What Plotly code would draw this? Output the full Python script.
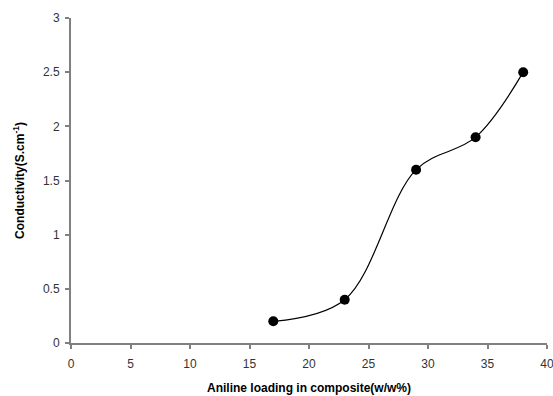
import plotly.graph_objects as go

# Aniline loading (w/w%) and measured conductivity (S/cm)
loading = [17, 23, 29, 34, 38]
conductivity = [0.2, 0.4, 1.6, 1.9, 2.5]

x_ticks = [0, 5, 10, 15, 20, 25, 30, 35, 40]
y_ticks = [0, 0.5, 1, 1.5, 2, 2.5, 3]
y_tick_text = ["0", "0.5", "1", "1.5", "2", "2.5", "3"]

FONT = "Liberation Sans, Arial, sans-serif"

fig = go.Figure(
    go.Scatter(
        x=loading,
        y=conductivity,
        mode="lines+markers",
        line=dict(shape="spline", smoothing=1.0, color="black", width=1.2),
        marker=dict(color="black", size=10),
        showlegend=False,
    )
)

axis_common = dict(
    automargin=False,
    showgrid=False,
    zeroline=False,
    showline=True,
    linecolor="#808080",
    linewidth=2,
    ticks="outside",
    ticklen=4,
    tickwidth=1.5,
    tickcolor="#808080",
    ticklabeloverflow="allow",
    tickfont=dict(family=FONT, size=12, color="#333333"),
)

fig.update_layout(
    width=553,
    height=396,
    margin=dict(l=71, r=6, t=18, b=53),
    paper_bgcolor="white",
    plot_bgcolor="white",
    xaxis=dict(
        range=[0, 40],
        tickvals=x_ticks,
        ticklabelstandoff=5,
        title=dict(
            text="<b>Aniline loading in composite(w/w%)</b>",
            font=dict(family=FONT, size=12, color="black"),
            standoff=13,
        ),
        **axis_common,
    ),
    yaxis=dict(
        range=[0, 3],
        tickvals=y_ticks,
        ticktext=y_tick_text,
        ticklabelstandoff=3,
        title=dict(
            text="<b>Conductivity(S.cm<sup>-1</sup>)</b>",
            font=dict(family=FONT, size=12, color="black"),
            standoff=16,
        ),
        **axis_common,
    ),
)

fig.write_html("out.html")
